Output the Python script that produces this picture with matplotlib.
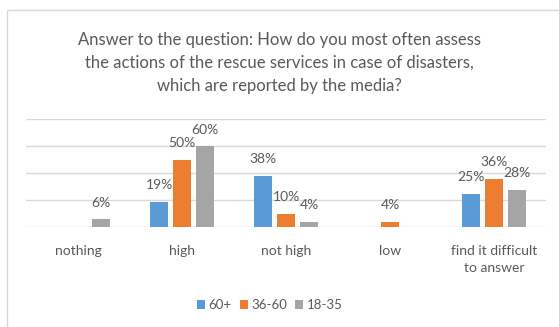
import numpy as np
import matplotlib
matplotlib.use("Agg")
import matplotlib.pyplot as plt
from matplotlib.patches import Rectangle

plt.rcParams['font.family'] = ['Lato', 'DejaVu Sans']

categories = ['nothing', 'high', 'not high', 'low', 'find it difficult\nto answer']
series = ['60+', '36-60', '18-35']
v_60plus = [0, 19, 38, 0, 25]
v_36_60 = [0, 50, 10, 4, 36]
v_18_35 = [6, 60, 4, 0, 28]
colors = ['#5B9BD5', '#ED7D31', '#A5A5A5']
txt = '#595959'

fig = plt.figure(figsize=(5.59, 3.27), dpi=100)
fig.patches.append(Rectangle((7/559, -0.1), 1.1, 1.1 - 10/327, transform=fig.transFigure,
                             fill=False, edgecolor='#D9D9D9', lw=1))

ax = fig.add_axes([26/559, 1 - 227.3/327, 520/559, 108/327])
x = np.arange(len(categories))
w = 0.173
step = 0.221
for i, (vals, c, name) in enumerate(zip([v_60plus, v_36_60, v_18_35], colors, series)):
    pos = x + (i - 1) * step
    ax.bar(pos, vals, width=w, color=c, label=name, zorder=3)
    for p, v in zip(pos, vals):
        if v > 0:
            ax.annotate(f'{v}%', (p, v), xytext=(0, 12), textcoords='offset points',
                        ha='center', va='center', fontsize=10, color=txt)

ax.set_xlim(-0.5, len(categories) - 0.5)
ax.set_ylim(0, 80)
ax.set_yticks([0, 20, 40, 60, 80])
ax.yaxis.grid(True, color='#D9D9D9', lw=1)
ax.set_axisbelow(True)
ax.tick_params(axis='y', left=False, labelleft=False)
ax.tick_params(axis='x', bottom=False, colors=txt, labelsize=10, pad=9)
ax.set_xticks(x)
ax.set_xticklabels(categories, linespacing=1.5)
for s in ax.spines.values():
    s.set_visible(False)

fig.text(0.5, 1 - 63/327, 'Answer to the question: How do you most often assess\n'
         'the actions of the rescue services in case of disasters,\n'
         'which are reported by the media?', ha='center', va='center',
         fontsize=12, color=txt, linespacing=1.5)

fig.legend(loc='center', bbox_to_anchor=(0.483, 1 - 305/327), ncol=3, frameon=False,
           fontsize=9.5, handlelength=0.6, handleheight=0.6, handletextpad=0.3,
           columnspacing=0.6, labelcolor=txt, borderpad=0.2)

fig.savefig('out.png', dpi=100, facecolor='white')
